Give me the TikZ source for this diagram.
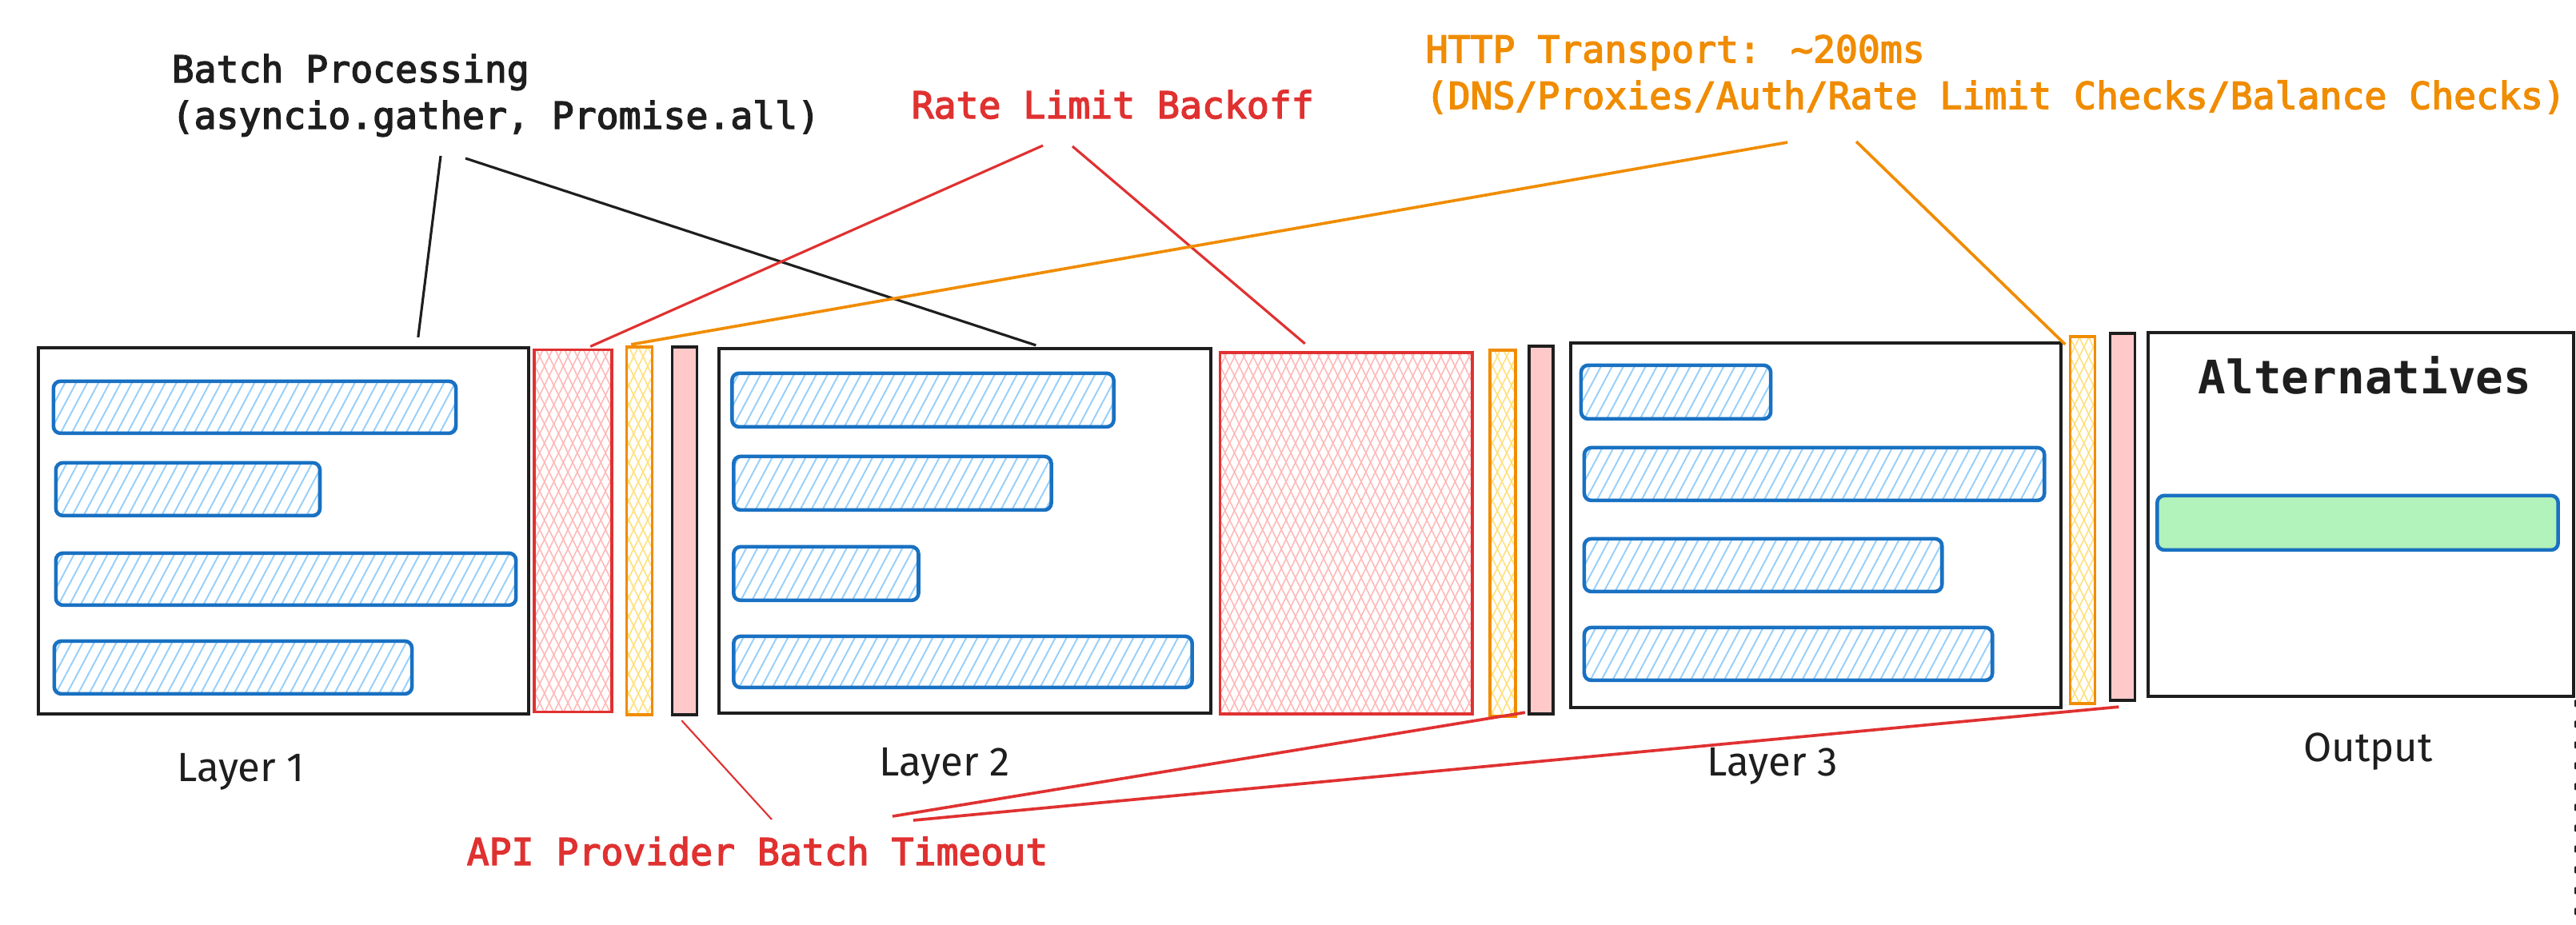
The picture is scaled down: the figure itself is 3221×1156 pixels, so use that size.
\documentclass[tikz,border=0pt]{standalone}
\usepackage{fontspec}
\setmonofont{DejaVu Sans Mono}
\newfontfamily\notefont{DejaVu Sans Mono}[FakeBold=3]
\newfontfamily\handfont{Fira Sans}
\usepackage{tikz}
\usetikzlibrary{positioning,calc,patterns.meta}
\definecolor{ink}{HTML}{1E1E1E}
\definecolor{taskblue}{HTML}{1971C2}
\definecolor{hatchblue}{HTML}{96CFFB}
\definecolor{backred}{HTML}{E03131}
\definecolor{hatchred}{HTML}{FFB8B8}
\definecolor{transorange}{HTML}{F08C00}
\definecolor{hatchyellow}{HTML}{FFE07A}
\definecolor{timeoutpink}{HTML}{FFC9C9}
\definecolor{resultgreen}{HTML}{B2F2BB}
\newcommand\notesize{\notefont\fontsize{13.2pt}{16.5pt}\selectfont}
\tikzstyle{layerbox} = [draw=ink, line width=1.15pt, rectangle, inner sep=0pt, outer sep=0pt]
\tikzstyle{taskbar} = [draw=taskblue, line width=1.3pt, rectangle, rounded corners=2.5pt,
    inner sep=0pt, outer sep=0pt, anchor=north west,
    pattern={Lines[angle=62,distance=3.5pt,line width=0.55pt]}, pattern color=hatchblue]
\tikzstyle{result} = [draw=taskblue, line width=1.3pt, fill=resultgreen, rectangle,
    rounded corners=2.5pt, inner sep=0pt, outer sep=0pt, anchor=north west]
\tikzstyle{backoff} = [draw=backred, line width=1pt, rectangle, inner sep=0pt, outer sep=0pt,
    preaction={pattern={Lines[angle=64,distance=3pt,line width=0.45pt]}, pattern color=hatchred},
    pattern={Lines[angle=116,distance=3pt,line width=0.45pt]}, pattern color=hatchred]
\tikzstyle{transport} = [draw=transorange, line width=1pt, rectangle, inner sep=0pt, outer sep=0pt,
    preaction={pattern={Lines[angle=64,distance=3pt,line width=0.45pt]}, pattern color=hatchyellow},
    pattern={Lines[angle=116,distance=3pt,line width=0.45pt]}, pattern color=hatchyellow]
\tikzstyle{timeout} = [draw=ink, line width=1pt, fill=timeoutpink, rectangle, inner sep=0pt, outer sep=0pt]
\tikzstyle{note} = [font=\notesize, inner sep=0pt, align=left]
\tikzstyle{caption} = [font=\handfont\fontsize{14.5pt}{17pt}\selectfont, inner sep=0pt, anchor=base, text=ink]
\tikzstyle{batchline} = [draw=ink, line width=0.9pt]
\tikzstyle{backoffline} = [draw=backred, line width=0.9pt]
\tikzstyle{transportline} = [draw=transorange, line width=1.05pt]
\tikzstyle{timeoutline} = [draw=backred, line width=1.05pt]
\tikzstyle{edgedots} = [draw=ink, line width=1.1pt, line cap=round, dash pattern=on 1.5pt off 5.9pt]

\begin{document}
\begin{tikzpicture}[x=0.01cm, y=0.01cm]
    \useasboundingbox (0,0) rectangle (3221,-1156);
    % We start by placing the layer blocks and the gaps between them
    \node [layerbox, minimum width=6.13cm, minimum height=4.58cm] (l1) at (354.5,-664) {};
    \node [backoff, right=0.07cm of l1, minimum width=0.97cm, minimum height=4.53cm] (r1) {};
    \node [transport, right=0.18cm of r1, minimum width=0.32cm, minimum height=4.6cm] (o1) {};
    \node [timeout, right=0.25cm of o1, minimum width=0.31cm, minimum height=4.6cm] (p1) {};
    \node [layerbox, right=0.28cm of p1, minimum width=6.14cm, minimum height=4.56cm] (l2) {};
    \node [backoff, right=0.12cm of l2, minimum width=3.15cm, minimum height=4.52cm, yshift=-0.03cm] (r2) {};
    \node [transport, right=0.22cm of r2, minimum width=0.32cm, minimum height=4.58cm] (o2) {};
    \node [timeout, right=0.17cm of o2, minimum width=0.30cm, minimum height=4.6cm, yshift=0.04cm] (p2) {};
    \node [layerbox, right=0.22cm of p2, minimum width=6.13cm, minimum height=4.56cm, yshift=0.06cm] (l3) {};
    \node [transport, right=0.11cm of l3, minimum width=0.31cm, minimum height=4.59cm, yshift=0.065cm] (o3) {};
    \node [timeout, right=0.19cm of o3, minimum width=0.31cm, minimum height=4.59cm, yshift=0.04cm] (p3) {};
    \node [layerbox, right=0.17cm of p3, minimum width=5.31cm, minimum height=4.55cm, yshift=0.03cm] (out) {};
    % The requests inside each layer
    \node [taskbar, minimum width=5.03cm, minimum height=0.65cm] (b11) at ($(l1.north west)+(19,-42)$) {};
    \node [taskbar, minimum width=3.30cm, minimum height=0.66cm] (b12) at ($(l1.north west)+(22,-144)$) {};
    \node [taskbar, minimum width=5.75cm, minimum height=0.65cm] (b13) at ($(l1.north west)+(22,-257)$) {};
    \node [taskbar, minimum width=4.47cm, minimum height=0.66cm] (b14) at ($(l1.north west)+(20,-367)$) {};
    \node [taskbar, minimum width=4.77cm, minimum height=0.67cm] (b21) at ($(l2.north west)+(16,-31)$) {};
    \node [taskbar, minimum width=3.97cm, minimum height=0.67cm] (b22) at ($(l2.north west)+(18,-135)$) {};
    \node [taskbar, minimum width=2.31cm, minimum height=0.67cm] (b23) at ($(l2.north west)+(18,-248)$) {};
    \node [taskbar, minimum width=5.73cm, minimum height=0.64cm] (b24) at ($(l2.north west)+(18,-360)$) {};
    \node [taskbar, minimum width=2.37cm, minimum height=0.67cm] (b31) at ($(l3.north west)+(13,-28)$) {};
    \node [taskbar, minimum width=5.75cm, minimum height=0.66cm] (b32) at ($(l3.north west)+(17,-131)$) {};
    \node [taskbar, minimum width=4.47cm, minimum height=0.66cm] (b33) at ($(l3.north west)+(17,-245)$) {};
    \node [taskbar, minimum width=5.10cm, minimum height=0.66cm] (b34) at ($(l3.north west)+(17,-356)$) {};
    \node [font=\ttfamily\bfseries\fontsize{16.4pt}{20pt}\selectfont, text=ink, inner sep=0pt, anchor=base] (alt) at ($(out.north)+(5,-77)$) {Alternatives};
    \node [result, minimum width=5.01cm, minimum height=0.68cm] (win) at ($(out.north west)+(11,-204)$) {};
    % Captions under the blocks
    \node [caption] (cap1) at (301,-977) {Layer 1};
    \node [caption] (cap2) at (1181,-970) {Layer 2};
    \node [caption] (cap3) at (2216,-970) {Layer 3};
    \node [caption] (cap4) at (2961,-952) {Output};
    % The notes
    \node [note, text=ink, anchor=north west] (bp) at (214,-67) {Batch Processing\\(asyncio.gather, Promise.all)};
    \node [note, text=backred, anchor=base west] (rl) at (1139,-148) {Rate Limit Backoff};
    \node [note, text=transorange, anchor=north west] (http) at (1782,-43) {HTTP Transport: \textasciitilde200ms\\(DNS/Proxies/Auth/Rate Limit Checks/Balance Checks)};
    \node [note, text=backred, anchor=base west] (api) at (583,-1082) {API Provider Batch Timeout};
    % We draw the leader lines from each note to its blocks
    \draw [batchline] ($(bp.north west)+(337,-128)$) -- ($(l1.north west)+(475,13)$);
    \draw [batchline] ($(bp.north west)+(368,-131)$) -- ($(l2.north west)+(396,4)$);
    \draw [backoffline] ($(rl.base west)+(165,-34)$) -- ($(r1.north west)+(70,4)$);
    \draw [backoffline] ($(rl.base west)+(202,-35)$) -- ($(r2.north west)+(106,11)$);
    \draw [transportline] ($(http.north west)+(453,-135)$) -- ($(o1.north west)+(6,3)$);
    \draw [transportline] ($(http.north west)+(539,-134)$) -- ($(o3.north west)+(-6,-10)$);
    \draw [timeoutline, line width=0.6pt] ($(p1.south west)+(12,-7)$) -- ($(api.base west)+(382,57)$);
    \draw [timeoutline] ($(p2.south west)+(-5,2)$) -- ($(api.base west)+(533,61)$);
    \draw [timeoutline] ($(p3.south west)+(11,-8)$) -- ($(api.base west)+(559,56)$);
    \draw [edgedots] ($(out.south east)+(3,-6)$) -- ++(0,-300);
\end{tikzpicture}
\end{document}
